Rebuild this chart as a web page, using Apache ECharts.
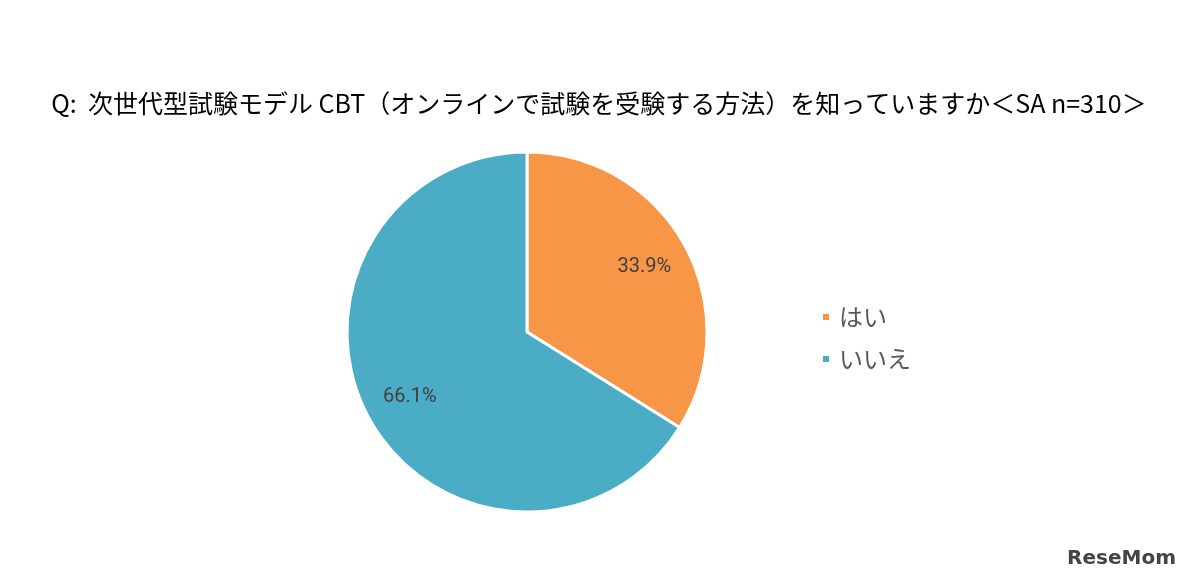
<!DOCTYPE html>
<html>
<head>
<meta charset="utf-8">
<title>CBT認知度</title>
<script src="https://cdn.jsdelivr.net/npm/echarts@6/dist/echarts.min.js"></script>
<style>
  html, body { margin: 0; padding: 0; background: #fff; }
  #chart { width: 1198px; height: 583px; }
</style>
</head>
<body>
<div id="chart"></div>
<script>
var categories = ['はい', 'いいえ'];
var values = [33.9, 66.1];
var colors = ['#F79646', '#4BACC6'];

var pieData = categories.map(function (c, i) {
  return { name: c, value: values[i], itemStyle: { color: colors[i] } };
});

var chart = echarts.init(document.getElementById('chart'));
chart.setOption({
  animation: false,
  title: {
    text: 'Q:  次世代型試験モデル CBT（オンラインで試験を受験する方法）を知っていますか＜SA n=310＞',
    left: 'center',
    top: 86,
    textStyle: { fontFamily: 'Noto Sans CJK JP', fontSize: 25, fontWeight: 'normal', color: '#000' }
  },
  legend: {
    orient: 'vertical',
    left: 816,
    top: 300,
    itemGap: 18,
    itemWidth: 8,
    itemHeight: 8,
    icon: 'rect',
    textStyle: { fontFamily: 'Noto Sans CJK JP', fontSize: 24, color: '#595959', padding: [0, 0, 0, 4] },
    data: categories
  },
  series: [
    {
      type: 'pie',
      center: [527, 332],
      radius: [0, 180],
      startAngle: 90,
      clockwise: true,
      label: { show: false },
      labelLine: { show: false },
      itemStyle: { borderColor: '#fff', borderWidth: 3 },
      emphasis: { disabled: true },
      data: pieData
    },
    {
      type: 'pie',
      center: [527, 332],
      radius: [82, 180],
      startAngle: 90,
      silent: true,
      legendHoverLink: false,
      itemStyle: { color: 'transparent' },
      label: {
        show: true,
        position: 'inside',
        formatter: function (p) { return p.value.toFixed(1) + '%'; },
        fontFamily: 'Roboto', fontSize: 20, color: '#404040'
      },
      data: categories.map(function (c, i) { return { name: c + ' ', value: values[i] }; })
    }
  ],
  graphic: [{
    type: 'text',
    right: 22,
    bottom: 14,
    style: { text: 'ReseMom', font: 'bold 20px "DejaVu Sans"', fill: '#444' }
  }]
});
</script>
</body>
</html>
